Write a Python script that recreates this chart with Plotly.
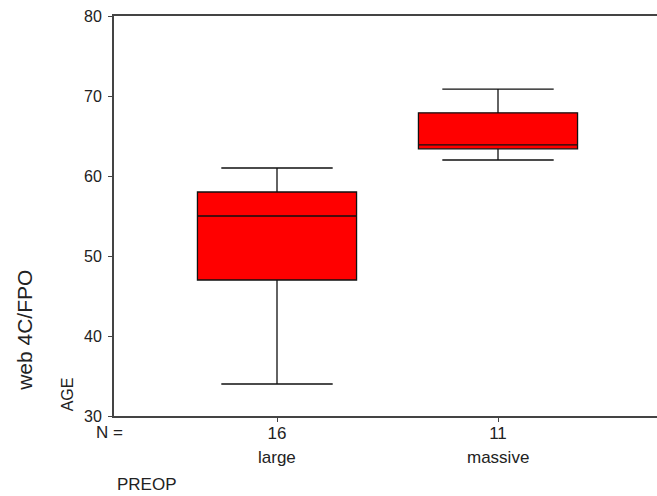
import plotly.graph_objects as go

categories = ["large", "massive"]
n_counts = ["16", "11"]
lower_fence = [34, 62]
q1 = [47, 63.4]
median = [55, 63.9]
q3 = [58, 67.9]
upper_fence = [61, 70.85]
y_ticks = [30, 40, 50, 60, 70, 80]

xpos = list(range(len(categories)))

fig = go.Figure()
fig.add_trace(go.Box(
    x=xpos, q1=q1, median=median, q3=q3,
    lowerfence=lower_fence, upperfence=upper_fence,
    width=0.72, whiskerwidth=0.7,
    fillcolor="#ff0000", line=dict(color="#111111", width=1.3),
    boxpoints=False, showlegend=False, hoverinfo="skip",
))

txt = "#222222"
font = "Arial, Liberation Sans, sans-serif"

annotations = []
for x, c in zip(xpos, categories):
    annotations.append(dict(x=x, xref="x", y=-0.1025, yref="paper", text=c,
                            showarrow=False, font=dict(size=17, color=txt, family=font),
                            xanchor="center", yanchor="middle"))
annotations += [
    dict(x=-0.0074, xref="paper", y=-0.04, yref="paper", text="N =", showarrow=False,
         font=dict(size=17, color=txt, family=font), xanchor="center", yanchor="middle"),
    dict(x=0.061, xref="paper", y=-0.1725, yref="paper", text="PREOP", showarrow=False,
         font=dict(size=17, color=txt, family=font), xanchor="center", yanchor="middle"),
    dict(x=-0.086, xref="paper", y=0.055, yref="paper", text="AGE", showarrow=False, textangle=-90,
         font=dict(size=16, color=txt, family=font), xanchor="center", yanchor="middle"),
    dict(x=-0.166, xref="paper", y=0.215, yref="paper", text="web 4C/FPO", showarrow=False, textangle=-90,
         font=dict(size=21, color=txt, family=font), xanchor="center", yanchor="middle"),
]

fig.update_layout(
    width=657, height=496,
    margin=dict(l=114, r=0, t=16, b=80),
    paper_bgcolor="white", plot_bgcolor="white",
    annotations=annotations,
    xaxis=dict(range=[-0.7376, 1.7195], tickmode="array", tickvals=xpos, ticktext=n_counts,
               showline=True, linecolor="#444444", linewidth=2, mirror=True,
               ticks="outside", ticklen=4, tickcolor="#444444", showgrid=False, zeroline=False,
               ticklabelstandoff=-3,
               tickfont=dict(size=17, color=txt, family=font)),
    yaxis=dict(range=[30, 80], tickmode="array", tickvals=y_ticks,
               showline=True, linecolor="#444444", linewidth=2,
               ticks="outside", ticklen=4, tickcolor="#444444", showgrid=False, zeroline=False,
               ticklabelstandoff=3,
               tickfont=dict(size=16, color=txt, family=font)),
)

fig.write_html("out.html")
